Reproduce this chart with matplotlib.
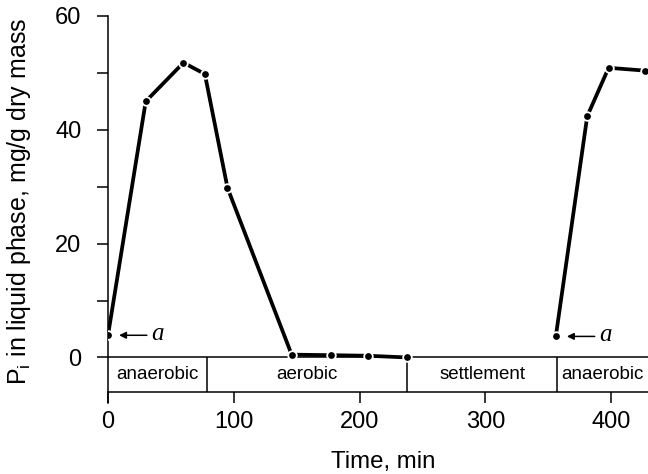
import matplotlib
matplotlib.use("Agg")
import matplotlib.pyplot as plt
from matplotlib.ticker import MultipleLocator

plt.rcParams['font.family'] = ['Liberation Sans', 'DejaVu Sans']
plt.rcParams['mathtext.default'] = 'regular'

# first cycle: anaerobic -> aerobic -> settlement
t_cycle1 = [0, 30, 60, 77, 95, 146, 177, 207, 238]
p_cycle1 = [3.9, 45.0, 51.8, 49.8, 29.8, 0.5, 0.4, 0.3, 0.0]
# second cycle start (anaerobic)
t_cycle2 = [356, 381, 398, 427]
p_cycle2 = [3.7, 42.4, 50.9, 50.4]

phase_edges = [0, 78.7, 238, 357, 430]
phase_names = ["anaerobic", "aerobic", "settlement", "anaerobic"]

fig = plt.figure(figsize=(6.48, 4.74), dpi=100)
ax = fig.add_axes([108 / 648, 1 - 403 / 474, 1 - 108 / 648, (403 - 16) / 474])

line_kw = dict(color='black', lw=2.7, marker='o', ms=6.2,
               mfc='black', mec='white', mew=1.3, zorder=3)
ax.plot(t_cycle1, p_cycle1, **line_kw)
ax.plot(t_cycle2, p_cycle2, **line_kw)

# phase band below zero
ax.axhline(0, color='black', lw=1.1, zorder=1)
ax.vlines(phase_edges[1:-1], -6, 0, color='black', lw=1.1)
for i, name in enumerate(phase_names):
    xc = (phase_edges[i] + min(phase_edges[i + 1], 429.3)) / 2
    ax.text(xc, -3, name, ha='center', va='center', fontsize=13.5)

# "a" markers
for tx, py in [(t_cycle1[0], p_cycle1[0]), (t_cycle2[0], p_cycle2[0])]:
    ax.annotate('', xy=(tx, py), xytext=(28, 0), textcoords='offset points',
                arrowprops=dict(arrowstyle='-|>', color='black', lw=1.1,
                                shrinkA=0, shrinkB=8, mutation_scale=10))
    ax.annotate('a', xy=(tx, py), xytext=(36, 1), textcoords='offset points',
                ha='center', va='center', fontsize=18, style='italic',
                family='Liberation Serif')

ax.set_xlim(0, 429.3)
ax.set_ylim(-8, 60)
ax.spines['top'].set_visible(False)
ax.spines['right'].set_visible(False)
ax.spines['bottom'].set_position(('data', -6))
for s in ax.spines.values():
    s.set_linewidth(1.1)

ax.xaxis.set_major_locator(MultipleLocator(100))
ax.yaxis.set_major_locator(MultipleLocator(20))
ax.yaxis.set_minor_locator(MultipleLocator(10))
ax.tick_params(axis='both', which='both', direction='out', length=8,
               width=1.1, labelsize=17)
ax.tick_params(axis='x', pad=6)
ax.tick_params(axis='y', pad=11)

ax.set_xlabel('Time, min', fontsize=17.3)
ax.set_ylabel('P$_i$ in liquid phase, mg/g dry mass', fontsize=18)
ax.xaxis.set_label_coords(0.509, -0.124)
ax.yaxis.set_label_coords(-0.139, 0.52)

fig.savefig('out.png', dpi=100)
